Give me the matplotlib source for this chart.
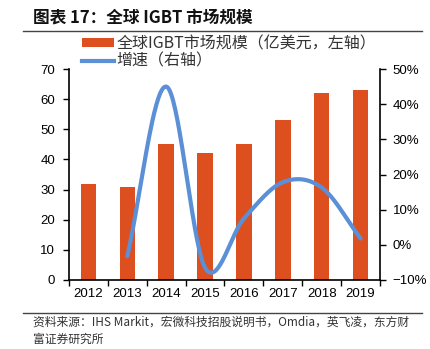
import numpy as np
import matplotlib
matplotlib.use("Agg")
import matplotlib.pyplot as plt
from matplotlib.patches import Patch
from matplotlib.lines import Line2D

plt.rcParams['font.family'] = ['Liberation Sans', 'Noto Sans CJK SC', 'DejaVu Sans']
CJK = ['Noto Sans CJK SC', 'DejaVu Sans']

years = ['2012', '2013', '2014', '2015', '2016', '2017', '2018', '2019']
market = [32, 31, 45, 42, 45, 53, 62, 63]
growth_years = ['2013', '2014', '2015', '2016', '2017', '2018', '2019']
growth = [-3.2, 45.0, -6.5, 7.5, 17.8, 16.3, 1.8]

bar_color = '#DE4F1F'
line_color = '#5B8FD6'

W, H = 431, 349
fig = plt.figure(figsize=(W / 100, H / 100), dpi=100)
ax = fig.add_axes([69 / W, 1 - 280 / H, (380 - 69) / W, (280 - 69) / H])

x = np.arange(len(years))
bars = ax.bar(x, market, width=0.4, color=bar_color, zorder=2)
ax.set_xlim(-0.5, len(years) - 0.5)
ax.set_ylim(0, 70)
ax.set_yticks(range(0, 71, 10))
ax.set_xticks(np.arange(-0.5, len(years), 1.0))
ax.set_xticklabels([])
ax.set_xticks(x, minor=True)
ax.set_xticklabels(years, minor=True)
ax.tick_params(axis='x', which='major', length=4, width=1, direction='out')
ax.tick_params(axis='x', which='minor', length=0, pad=6, labelsize=9.5)
ax.tick_params(axis='y', length=4, width=1, direction='out', labelsize=9.5, pad=6)
for s in ['top', 'right']:
    ax.spines[s].set_visible(False)
ax.spines['left'].set_linewidth(1.2)
ax.spines['bottom'].set_linewidth(1.2)

ax2 = ax.twinx()
ax2.set_ylim(-10, 50)
ax2.set_yticks(range(-10, 51, 10))
ax2.set_yticklabels([('\u2212' if v < 0 else '') + f'{abs(v)}%' for v in range(-10, 51, 10)])
ax2.tick_params(axis='y', length=4, width=1, direction='out', labelsize=9.5, pad=5)
for s in ['top', 'left', 'bottom']:
    ax2.spines[s].set_visible(False)
ax2.spines['right'].set_linewidth(1.2)

# smooth (Catmull-Rom) rendering through the growth points
gx = np.array([years.index(y) for y in growth_years], dtype=float)
gy = np.array(growth, dtype=float)
px = np.concatenate([[2 * gx[0] - gx[1]], gx, [2 * gx[-1] - gx[-2]]])
py = np.concatenate([[2 * gy[0] - gy[1]], gy, [2 * gy[-1] - gy[-2]]])
sx, sy = [], []
t = np.linspace(0, 1, 40)
for i in range(1, len(px) - 2):
    p0x, p1x, p2x, p3x = px[i - 1:i + 3]
    p0y, p1y, p2y, p3y = py[i - 1:i + 3]
    def cr(a, b, c, d):
        return 0.5 * ((2 * b) + (-a + c) * t + (2 * a - 5 * b + 4 * c - d) * t ** 2 + (-a + 3 * b - 3 * c + d) * t ** 3)
    sx.append(cr(p0x, p1x, p2x, p3x))
    sy.append(cr(p0y, p1y, p2y, p3y))
sx = np.concatenate(sx)
sy = np.concatenate(sy)
ax2.plot(sx, sy, color=line_color, linewidth=3, solid_capstyle='round', zorder=3)

# legend
handles = [Patch(facecolor=bar_color, edgecolor='none'),
           Line2D([0], [0], color=line_color, linewidth=3)]
labels = ['全球IGBT市场规模（亿美元，左轴）', '增速（右轴）']
leg = fig.legend(handles, labels, loc='upper left',
                 bbox_to_anchor=(82 / W, 1 - 35 / H), frameon=False,
                 handlelength=2.0, handleheight=0.45, handletextpad=0.15,
                 labelspacing=0.05, borderaxespad=0, borderpad=0,
                 prop={'family': CJK, 'size': 11.5})
for txt in leg.get_texts():
    txt.set_color('#333333')

# title and rules
fig.text(33 / W, 1 - 18 / H, '图表 17：全球 IGBT 市场规模', family=CJK,
         fontsize=12, fontweight='bold', va='center', ha='left', color='#111111')
fig.add_artist(Line2D([23 / W, 422 / W], [1 - 31 / H, 1 - 31 / H], color='#444444', linewidth=1))
fig.add_artist(Line2D([23 / W, 422 / W], [1 - 313 / H, 1 - 313 / H], color='#444444', linewidth=1))
fig.text(33 / W, 1 - 322 / H,
         '资料来源：IHS Markit，宏微科技招股说明书，Omdia，英飞凌，东方财',
         family=CJK, fontsize=8.5, va='center', ha='left', color='#333333')
fig.text(33 / W, 1 - 339 / H, '富证券研究所',
         family=CJK, fontsize=8.5, va='center', ha='left', color='#333333')

fig.savefig('out.png', dpi=100)
